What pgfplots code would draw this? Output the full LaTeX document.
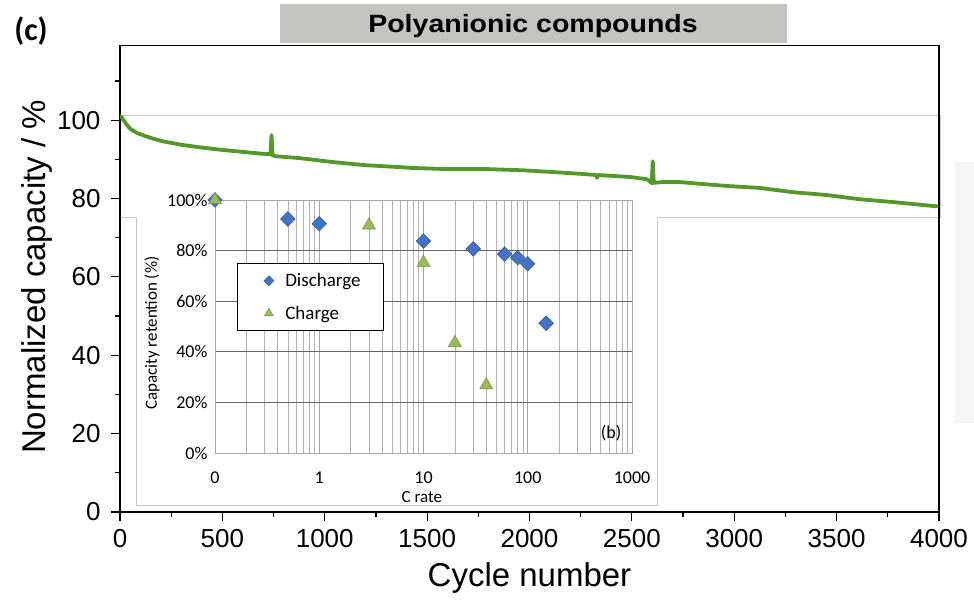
\documentclass[border=0pt]{standalone}
\usepackage{fontspec}
\setmainfont{Liberation Sans}
\newfontfamily\calfont{Carlito}
\usepackage{pgfplots}
\pgfplotsset{compat=1.18}

\definecolor{curvegreen}{RGB}{84,152,44}
\definecolor{dischblue}{RGB}{68,114,196}
\definecolor{dischedge}{RGB}{47,85,151}
\definecolor{chargegreen}{RGB}{155,187,89}
\definecolor{chargeedge}{RGB}{113,137,63}
\definecolor{titlegray}{RGB}{194,196,192}

\begin{document}
\begin{tikzpicture}[x=1pt,y=1pt]
\useasboundingbox (0,0) rectangle (974,600);

% panel tag and title bar
\node[font=\calfont\bfseries\fontsize{32}{34}\selectfont] at (31,569) {(c)};
\fill[titlegray] (280,557) rectangle (787,596);
\node[font=\bfseries\fontsize{25}{28}\selectfont, xscale=1.14] at (533,574) {Polyanionic compounds};

% frame of the pasted rate-capability panel
\draw[gray!45, line width=0.9pt] (120,485) -- (940,485) -- (940,383) -- (657,383)
  -- (657,95) -- (136,95) -- (136,383) -- (120,383);
% faint panel at the right margin
\fill[gray!8] (955,438) rectangle (974,177);

% long-term cycling
\begin{axis}[
  at={(120pt,88pt)}, anchor=south west,
  scale only axis, width=819pt, height=466.3pt,
  xmin=0, xmax=4000, ymin=0, ymax=119,
  xtick={0,500,...,4000}, minor xtick={250,750,...,3750},
  ytick={0,20,...,100}, minor ytick={10,30,...,110},
  tick align=outside, tick pos=left,
  major tick length=9pt, minor tick length=5pt,
  every tick/.style={black, line width=1.2pt},
  axis line style={line width=1.4pt},
  scaled ticks=false,
  /pgf/number format/assume math mode=true,
  /pgf/number format/1000 sep={},
  ticklabel style={font=\fontsize{26}{28}\selectfont},
  xticklabel style={yshift=-5pt},
  yticklabel style={xshift=-7pt},
  xlabel={Cycle number}, ylabel={Normalized capacity / \%},
  every axis x label/.style={at={(axis description cs:0.5,-0.1415)}, anchor=center,
    font=\fontsize{33}{36}\selectfont},
  every axis y label/.style={at={(axis description cs:-0.1013,0.504)}, anchor=center,
    rotate=90, font=\fontsize{33}{36}\selectfont},
]
\addplot[curvegreen, line width=3.8pt, line join=round, line cap=round] coordinates {
  (5,101.0) (15,100.2) (30,99.0) (50,97.8) (80,96.8) (120,96.0) (160,95.3)
  (210,94.6) (300,93.7) (400,93.0) (500,92.4) (600,91.9) (700,91.4) (735,91.3)
  (740,96.2) (745,91.0) (760,90.8) (880,90.3) (1040,89.3) (1200,88.5) (1370,88.0)
  (1430,87.8) (1600,87.5) (1800,87.5) (1970,87.2) (2130,86.7) (2250,86.3)
  (2325,86.0) (2330,85.3) (2335,86.0) (2490,85.5) (2575,84.9) (2597,83.9)
  (2602,89.5) (2607,84.0) (2650,84.2) (2735,84.2) (2800,83.9) (2965,83.2)
  (3125,82.7) (3290,81.6) (3450,80.9) (3615,79.8) (3775,79.1) (3970,78.1) (3990,78.0)
};
\end{axis}

% rate capability inset
\begin{axis}[
  at={(215pt,147pt)}, anchor=south west,
  scale only axis, width=417pt, height=253pt,
  xmode=log, xmin=0.1, xmax=1000, ymin=0, ymax=100,
  xtick={0.1,1,10,100,1000}, xticklabels={0,1,10,100,1000},
  minor xtick={0.2,0.3,0.4,0.5,0.6,0.7,0.8,0.9,2,3,4,5,6,7,8,9,20,30,40,50,60,70,80,90,200,300,400,500,600,700,800,900},
  ytick={0,20,...,100}, yticklabel={\pgfmathprintnumber{\tick}\%},
  xmajorgrids, xminorgrids, ymajorgrids,
  major x grid style={gray!70, line width=0.7pt},
  minor x grid style={gray!60, line width=0.6pt},
  major y grid style={black!60, line width=0.8pt},
  axis line style={gray!70, line width=0.7pt},
  major tick length=0pt, minor tick length=0pt,
  clip=false,
  /pgf/number format/assume math mode=true,
  ticklabel style={font=\calfont\fontsize{18}{20}\selectfont},
  xticklabel style={yshift=-15pt},
  yticklabel style={xshift=-4pt},
  xlabel={C rate}, ylabel={Capacity retention (\%)},
  every axis x label/.style={at={(axis description cs:0.496,-0.174)}, anchor=center,
    font=\calfont\fontsize{17}{19}\selectfont},
  every axis y label/.style={at={(axis description cs:-0.151,0.474)}, anchor=center,
    rotate=90, font=\calfont\fontsize{17}{19}\selectfont},
  legend style={at={(0.053,0.751)}, anchor=north west, draw=black, line width=0.8pt,
    font=\calfont\fontsize{19}{21}\selectfont, inner xsep=21pt, inner ysep=8pt,
    row sep=14pt, fill=white},
  legend cell align=left,
  legend image code/.code={%
    \path (0pt,0pt) (24pt,0pt);
    \draw[#1, every mark/.append style={scale=0.68}] plot coordinates {(10pt,0pt)};},
]
\addplot[only marks, mark=square*, mark size=5.2pt,
  mark options={rotate=45, fill=dischblue, draw=dischedge, line width=0.5pt}] coordinates {
  (0.1,100) (0.5,92.5) (1,90.6) (10,83.8) (30,80.7) (60,78.6) (80,77.2) (100,74.8) (150,51.3)
};
\addlegendentry{Discharge}
\addplot[only marks, mark=triangle*, mark size=7.5pt,
  mark options={fill=chargegreen, draw=chargeedge, line width=0.5pt}] coordinates {
  (0.1,100) (3,90.0) (10,75.2) (20,43.5) (40,26.8)
};
\addlegendentry{Charge}
\node[font=\calfont\fontsize{18}{20}\selectfont] at (axis description cs:0.95,0.079) {(b)};
\end{axis}
\end{tikzpicture}
\end{document}
